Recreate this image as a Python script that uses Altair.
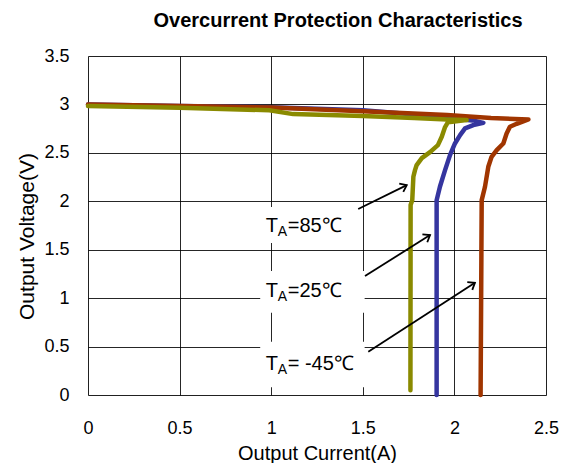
import altair as alt
import pandas as pd

# ---- data ----
c85_x = [0.00, 0.50, 0.99, 1.12, 1.50, 1.78, 1.96, 2.067, 1.965, 1.949, 1.931, 1.910, 1.867, 1.822, 1.794, 1.785, 1.776, 1.770, 1.761, 1.760]
c85_y = [2.985, 2.965, 2.94, 2.90, 2.88, 2.86, 2.845, 2.838, 2.817, 2.766, 2.666, 2.58, 2.508, 2.446, 2.374, 2.322, 2.253, 2.012, 1.961, 0.05]

c25_x = [0.00, 0.50, 1.00, 1.50, 1.75, 1.95, 2.10, 2.158, 2.103, 2.058, 2.031, 2.003, 1.976, 1.949, 1.921, 1.903, 1.903]
c25_y = [3.00, 2.985, 2.97, 2.94, 2.90, 2.86, 2.835, 2.81, 2.786, 2.752, 2.683, 2.597, 2.477, 2.322, 2.15, 2.01, 0.00]

cm45_x = [0.00, 0.50, 1.00, 1.50, 1.96, 2.20, 2.404, 2.34, 2.303, 2.285, 2.267, 2.231, 2.203, 2.185, 2.167, 2.149, 2.143]
cm45_y = [3.00, 2.985, 2.968, 2.93, 2.89, 2.86, 2.845, 2.80, 2.77, 2.70, 2.597, 2.528, 2.459, 2.356, 2.15, 2.012, 0.00]

series_names = ["25", "-45", "85"]
series_colors = ["#35359F", "#A03500", "#8A8A00"]

x_ticks = [0, 0.5, 1, 1.5, 2, 2.5]
y_ticks = [0, 0.5, 1, 1.5, 2, 2.5, 3, 3.5]

# annotation labels (temperature values, anchor point of label, arrow start/end)
label_temps = ["85", "25", " -45"]
label_x = [0.97, 0.97, 0.97]
label_y = [1.685, 1.014, 0.258]
box_x1 = [0.94, 0.94, 0.94]
box_x2 = [1.46, 1.51, 1.51]
box_y1 = [1.57, 0.85, 0.08]
box_y2 = [1.94, 1.28, 0.55]
arrow_x1 = [1.475, 1.512, 1.530]
arrow_y1 = [1.92, 1.228, 0.447]
arrow_x2 = [1.740, 1.867, 2.112]
arrow_y2 = [2.167, 1.651, 1.159]
arrow_angle = [334, 328, 327]

rows = []
for name, xs, ys in [("25", c25_x, c25_y), ("-45", cm45_x, cm45_y), ("85", c85_x, c85_y)]:
    for i, (a, b) in enumerate(zip(xs, ys)):
        rows.append({"series": name, "i": i, "x": a, "y": b})
df = pd.DataFrame(rows)

ann = pd.DataFrame({
    "temp": label_temps, "lx": label_x, "ly": label_y,
    "bx1": box_x1, "bx2": box_x2, "by1": box_y1, "by2": box_y2,
    "ax1": arrow_x1, "ay1": arrow_y1, "ax2": arrow_x2, "ay2": arrow_y2,
    "ang": arrow_angle,
})
ann["rest"] = "=" + ann["temp"] + "℃"

FONT = "Liberation Sans"

xs = alt.Scale(domain=[0, 2.5], nice=False, zero=False)
ys = alt.Scale(domain=[0, 3.5], nice=False, zero=False)

X = alt.X("x:Q", scale=xs,
          axis=alt.Axis(title="Output Current(A)", values=x_ticks, grid=True, ticks=False, format="~g",
                        domain=False, labelPadding=24, titlePadding=6,
                        gridColor="#000000", gridWidth=1, gridOpacity=0.85,
                        labelFontSize=18, titleFontSize=20, titleFontWeight="normal",
                        labelFont=FONT, titleFont=FONT, labelColor="black", titleColor="black",
                        labelFlush=False))
Y = alt.Y("y:Q", scale=ys,
          axis=alt.Axis(title="Output Voltage(V)", values=y_ticks, grid=True, ticks=False, format="~g",
                        domain=False, labelPadding=19, titlePadding=6, titleY=180,
                        gridColor="#000000", gridWidth=1, gridOpacity=0.85,
                        labelFontSize=18, titleFontSize=21, titleFontWeight="normal",
                        labelFont=FONT, titleFont=FONT, labelColor="black", titleColor="black",
                        labelFlush=False))

lines = alt.Chart(df).mark_line(strokeWidth=4.5, strokeJoin="round", strokeCap="round").encode(
    x=X, y=Y,
    color=alt.Color("series:N", scale=alt.Scale(domain=series_names, range=series_colors), legend=None),
    order="i:Q",
)

base_ann = alt.Chart(ann)

boxes = base_ann.mark_rect(color="white").encode(
    x=alt.X("bx1:Q", scale=xs), x2="bx2:Q",
    y=alt.Y("by1:Q", scale=ys), y2="by2:Q",
)

arrows = base_ann.mark_rule(color="black", strokeWidth=1.8).encode(
    x=alt.X("ax1:Q", scale=xs), y=alt.Y("ay1:Q", scale=ys),
    x2="ax2:Q", y2="ay2:Q",
)

heads = base_ann.mark_point(
    shape="M-1,-0.75L0,0L-1,0.75", filled=False, color="black", strokeWidth=1.8, size=150, opacity=1
).encode(
    x=alt.X("ax2:Q", scale=xs), y=alt.Y("ay2:Q", scale=ys),
    angle=alt.Angle("ang:Q", scale=None),
)

t_big = base_ann.mark_text(text="T", align="left", baseline="alphabetic", fontSize=20,
                           font=FONT, color="black").encode(
    x=alt.X("lx:Q", scale=xs), y=alt.Y("ly:Q", scale=ys))
t_sub = base_ann.mark_text(text="A", align="left", baseline="alphabetic", fontSize=14,
                           font=FONT, color="black", dx=12, dy=4).encode(
    x=alt.X("lx:Q", scale=xs), y=alt.Y("ly:Q", scale=ys))
t_rest = base_ann.mark_text(align="left", baseline="alphabetic", fontSize=20,
                            font=FONT, color="black", dx=22).encode(
    x=alt.X("lx:Q", scale=xs), y=alt.Y("ly:Q", scale=ys), text="rest:N")

chart = alt.layer(boxes, lines, arrows, heads, t_big, t_sub, t_rest).properties(
    width=458, height=339,
    title=alt.Title("Overcurrent Protection Characteristics", fontSize=20, fontWeight="bold",
                    font=FONT, color="black", anchor="middle", offset=16, dx=21),
    autosize=alt.AutoSizeParams(type="none"),
    padding={"left": 80, "top": 48, "right": 20, "bottom": 68},
).configure_view(stroke="black", strokeWidth=3).configure(background="white")

chart.save("out.html", embed_options={"renderer": "svg", "actions": False})
